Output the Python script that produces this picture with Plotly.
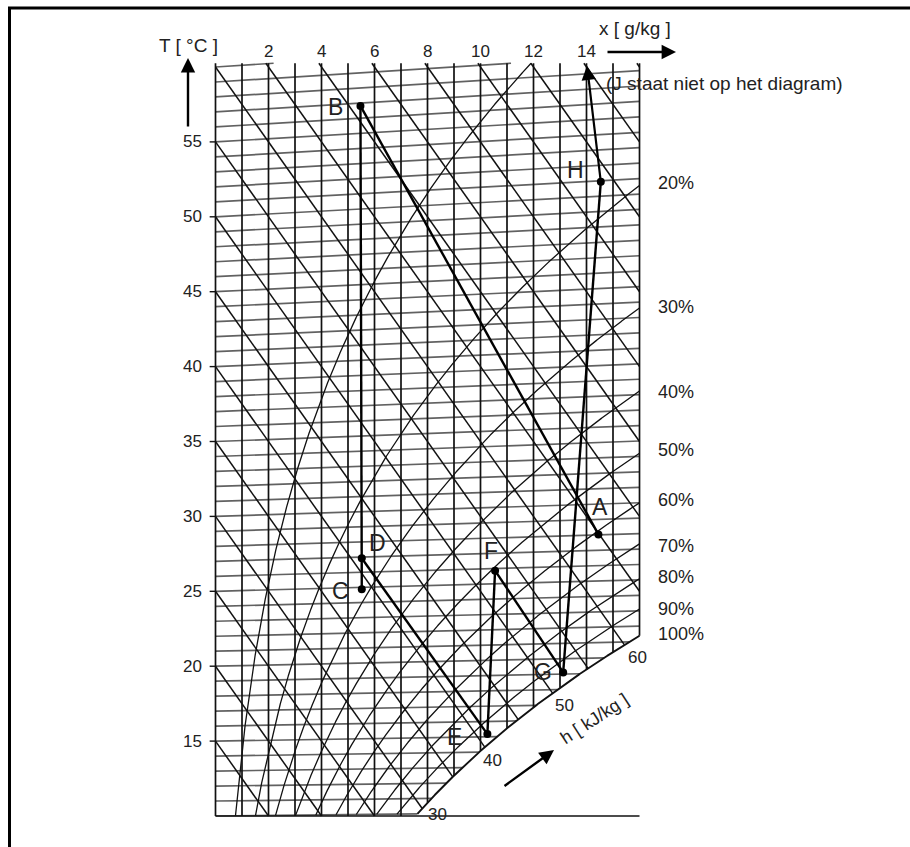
import numpy as np
import plotly.graph_objects as go

# ---------------- data ----------------
T_levels = list(range(10, 61))            # isotherms, degC
x_levels = list(range(0, 17))             # moisture content lines, g/kg
h_levels = list(range(15, 101, 5))        # enthalpy lines, kJ/kg
rh_levels = [10, 20, 30, 40, 50, 60, 70, 80, 90, 100]   # relative humidity, %
T_ticks = [15, 20, 25, 30, 35, 40, 45, 50, 55]
x_ticks = [2, 4, 6, 8, 10, 12, 14]
rh_labels = ["20%", "30%", "40%", "50%", "60%", "70%", "80%", "90%", "100%"]
h_labels = ["30", "40", "50", "60"]

point_names = ["A", "B", "C", "D", "E", "F", "G", "H"]
point_x = [14.45, 5.47, 5.52, 5.52, 10.26, 10.55, 13.12, 14.54]   # g/kg
point_T = [28.03, 56.81, 24.87, 26.92, 15.17, 25.86, 19.11, 50.93]  # degC
process_segments = [("B", "A"), ("B", "C"), ("D", "E"), ("E", "F"), ("F", "G"), ("G", "H")]
J_x, J_T = 14.02, 58.53   # direction towards J (not on the diagram)

# ---------------- geometry ----------------
W, H = 910, 847
X0PX, XS = 215.5, 26.5
Y0PX, YS = 816.0, 14.98
YTOP = 60.25
P_ATM = 101.325


def skewY(T, x):
    return T * (1 + 0.0019 * np.asarray(x))


def psat(T):
    return 0.61094 * np.exp(17.625 * T / (T + 243.04))


def x_of(T, phi=1.0):
    pv = phi * psat(T)
    return 622 * pv / (P_ATM - pv)


def Tsat_of_x(x):
    pv = x * P_ATM / (622 + x)
    a = np.log(pv / 0.61094)
    return 243.04 * a / (17.625 - a)


def lower(x):
    if x <= 0.01:
        return 10.0
    ts = Tsat_of_x(x)
    return max(10.0, float(skewY(ts, x)))


def paper(px, py):
    return px / W, 1 - py / H


ink = "#111111"

# isotherms
iso_x, iso_y = [], []
for T in T_levels:
    xe = min(16.0, x_of(T), (YTOP / T - 1) / 0.0019)
    if xe <= 0:
        continue
    xs = np.linspace(0, xe, 2)
    iso_x += list(xs) + [None]
    iso_y += list(skewY(T, xs)) + [None]

# vertical x lines
vx, vy = [], []
for xv in x_levels:
    vx += [xv, xv, None]
    vy += [lower(xv), YTOP, None]
vx += [0, 16, None]
vy += [10, 10, None]

# enthalpy lines
hx, hy = [], []
for h in h_levels:
    xs0 = max(0.0, (h - YTOP) / 2.5)
    f = lambda xx: h - 2.5 * xx - lower(xx)
    if f(xs0) < 0:
        continue
    if f(16.0) >= 0:
        xe = 16.0
    else:
        lo, hi = xs0, 16.0
        for _ in range(60):
            mid = 0.5 * (lo + hi)
            if f(mid) >= 0:
                lo = mid
            else:
                hi = mid
        xe = lo
    hx += [xs0, xe, None]
    hy += [h - 2.5 * xs0, h - 2.5 * xe, None]

# relative humidity curves
rx, ry = [], []
sat_x, sat_y = [], []
for rh in rh_levels:
    phi = rh / 100
    Ts = np.arange(10, 62, 0.02)
    xs = x_of(Ts, phi)
    Ys = skewY(Ts, xs)
    cx, cy = [], []
    for i in range(len(Ts)):
        if xs[i] <= 16 and Ys[i] <= YTOP:
            cx.append(float(xs[i]))
            cy.append(float(Ys[i]))
        else:
            x1, y1, x2, y2 = xs[i - 1], Ys[i - 1], xs[i], Ys[i]
            t1 = (16 - x1) / (x2 - x1) if x2 > 16 else 1
            t2 = (YTOP - y1) / (y2 - y1) if y2 > YTOP else 1
            t = min(t1, t2)
            cx.append(float(x1 + t * (x2 - x1)))
            cy.append(float(y1 + t * (y2 - y1)))
            break
    if rh == 100:
        sat_x, sat_y = cx, cy
    else:
        rx += cx + [None]
        ry += cy + [None]

fig = go.Figure()
fig.add_trace(go.Scatter(x=iso_x, y=iso_y, mode="lines", line=dict(color="rgba(0,0,0,0.62)", width=1.7),
                         hoverinfo="skip", showlegend=False))
fig.add_trace(go.Scatter(x=vx, y=vy, mode="lines", line=dict(color=ink, width=1.7),
                         hoverinfo="skip", showlegend=False))
fig.add_trace(go.Scatter(x=hx, y=hy, mode="lines", line=dict(color=ink, width=1.5),
                         hoverinfo="skip", showlegend=False))
fig.add_trace(go.Scatter(x=rx, y=ry, mode="lines", line=dict(color=ink, width=1.3),
                         hoverinfo="skip", showlegend=False))
fig.add_trace(go.Scatter(x=sat_x, y=sat_y, mode="lines", line=dict(color=ink, width=1.9),
                         hoverinfo="skip", showlegend=False))

# tick marks at left
tkx, tky = [], []
for T in T_ticks:
    tkx += [-0.22, 0, None]
    tky += [T, T, None]
fig.add_trace(go.Scatter(x=tkx, y=tky, mode="lines", line=dict(color=ink, width=1.4),
                         hoverinfo="skip", showlegend=False))

# process lines
pts = {n: (xv, float(skewY(t, xv))) for n, xv, t in zip(point_names, point_x, point_T)}
px_, py_ = [], []
for a, b in process_segments:
    px_ += [pts[a][0], pts[b][0], None]
    py_ += [pts[a][1], pts[b][1], None]
fig.add_trace(go.Scatter(x=px_, y=py_, mode="lines", line=dict(color="#000", width=2.4),
                         hoverinfo="skip", showlegend=False))
fig.add_trace(go.Scatter(x=[pts[n][0] for n in point_names], y=[pts[n][1] for n in point_names],
                         mode="markers", marker=dict(color="#000", size=8),
                         hoverinfo="skip", showlegend=False))

FONT = "Liberation Sans, Arial, sans-serif"
ann = []
ann.append(dict(x=J_x, y=float(skewY(J_T, J_x)), ax=pts["H"][0], ay=pts["H"][1], xref="x", yref="y",
                axref="x", ayref="y", showarrow=True, arrowhead=2, arrowsize=1.3, arrowwidth=2.2,
                arrowcolor="#000", text=""))


def txt(s, a, b, size=17, angle=0, anchor="center"):
    xp, yp = paper(a, b)
    ann.append(dict(x=xp, y=yp, xref="paper", yref="paper", text=s, showarrow=False, textangle=angle,
                    xanchor=anchor, yanchor="middle", font=dict(family=FONT, size=size, color="#222")))


label_px = {"A": (600, 507), "B": (335, 107), "C": (340, 591), "D": (377, 543),
            "E": (454, 737), "F": (491, 551), "G": (543, 672), "H": (575, 170)}
for n in point_names:
    txt(n, *label_px[n], size=23)

for T in T_ticks:
    ann.append(dict(x=-0.45, y=T, xref="x", yref="y", text=str(T), showarrow=False, xanchor="right",
                    yanchor="middle", font=dict(family=FONT, size=17, color="#222")))
for xv in x_ticks:
    txt(str(xv), X0PX + XS * xv, 52)

rh_pos = [(676, 183), (676, 307), (676, 392), (676, 450), (676, 500), (676, 546), (676, 577), (676, 609), (681, 634)]
for lab, (a, b) in zip(rh_labels, rh_pos):
    txt(lab, a, b, size=18)

h_pos = [(437, 814), (493, 760), (564, 705), (637, 657)]
for lab, (a, b) in zip(h_labels, h_pos):
    txt(lab, a, b)

txt("T [ °C ]", 188, 45, size=19)
txt("x [ g/kg ]", 635, 28, size=19)
txt("(J staat niet op het diagram)", 604, 83, size=19, anchor="left")
txt("h [ kJ/kg ]", 594, 719, size=18, angle=-33)


def arrow(hx_, hy_, tx_, ty_):
    xp, yp = paper(hx_, hy_)
    ann.append(dict(x=xp, y=yp, xref="paper", yref="paper", ax=tx_ - hx_, ay=ty_ - hy_,
                    showarrow=True, arrowhead=2, arrowsize=1.2, arrowwidth=2.4, arrowcolor="#000", text=""))


arrow(188, 58, 188, 128)
arrow(676, 52, 606, 52)
arrow(554, 750, 503, 787)

shapes = [
    dict(type="line", xref="paper", yref="paper", x0=9.5 / W, x1=9.5 / W, y0=1 - 7 / H, y1=0,
         line=dict(color="#000", width=3)),
    dict(type="line", xref="paper", yref="paper", x0=8 / W, x1=1, y0=1 - 8 / H, y1=1 - 8 / H,
         line=dict(color="#000", width=3)),
]

fig.update_layout(
    width=W, height=H, margin=dict(l=0, r=0, t=0, b=0),
    paper_bgcolor="white", plot_bgcolor="white",
    xaxis=dict(range=[-X0PX / XS, (W - X0PX) / XS], visible=False, fixedrange=True),
    yaxis=dict(range=[10 - (H - Y0PX) / YS, 10 + Y0PX / YS], visible=False, fixedrange=True),
    annotations=ann, shapes=shapes, showlegend=False,
)
fig.write_html("out.html", config={"displayModeBar": False},
               post_script="document.body.style.margin='0';document.body.style.overflow='hidden';")
